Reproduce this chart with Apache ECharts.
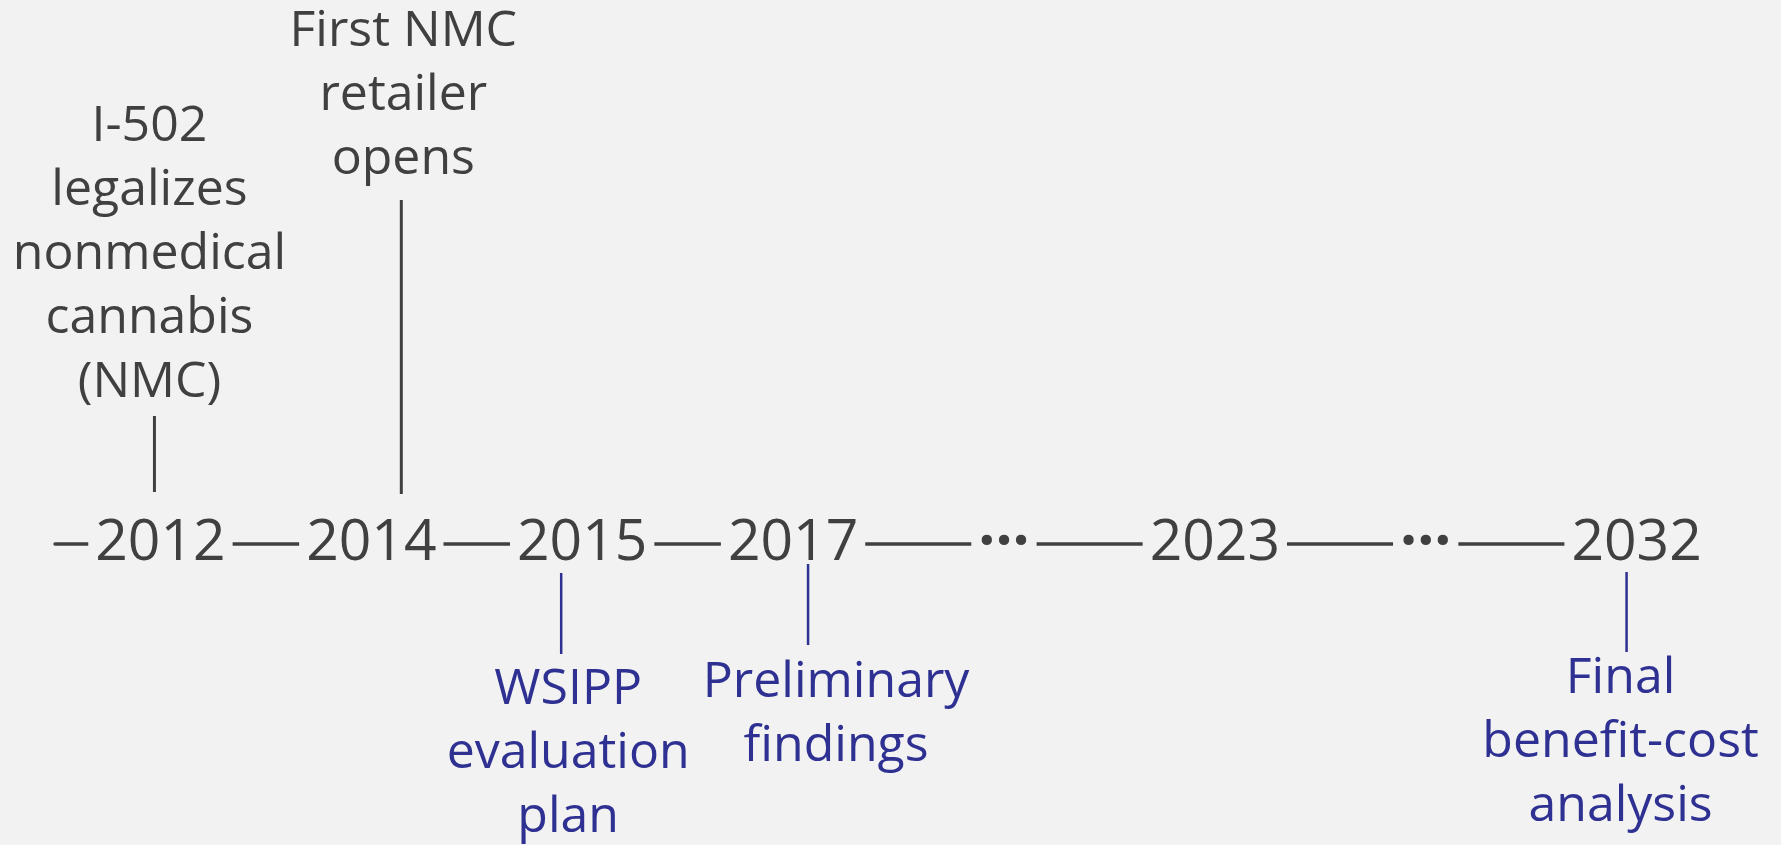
<!DOCTYPE html>
<html lang="en">
<head>
  <meta charset="UTF-8">
  <title>Timeline</title>
  <style>
    html, body { margin: 0; padding: 0; background: #f2f2f2; }
    #main { width: 1781px; height: 845px; }
  </style>
</head>
<body>
  <div id="main"></div>
  <script src="https://cdn.jsdelivr.net/npm/echarts@6/dist/echarts.min.js"></script>
  <script>
    // timeline ticks (the "…" entries are the breaks in the axis)
    var years = ['2012', '2014', '2015', '2017', '…', '2023', '…', '2032'];

    // events hanging off the timeline
    var eventYears = ['2012', '2014', '2015', '2017', '2032'];
    var eventLabels = [
      'I-502\nlegalizes\nnonmedical\ncannabis\n(NMC)',
      'First NMC\nretailer\nopens',
      'WSIPP\nevaluation\nplan',
      'Preliminary\nfindings',
      'Final\nbenefit-cost\nanalysis'
    ];
    var eventSides = ['above', 'above', 'below', 'below', 'below'];

    var GRAY = '#404040';
    var BLUE = '#2e3192';

    // stem extent (px from the line), gap to text, small horizontal nudges
    var stemLayout = {
      '2012': { stem: [52, 128], gap: 1, stemDx: -6, textDx: -11 },
      '2014': { stem: [50, 344], gap: 8, stemDx: 30, textDx: 32 },
      '2015': { stem: [29, 110], gap: 4, stemDx: -21, textDx: -14 },
      '2017': { stem: [20, 101], gap: 6, stemDx: 15, textDx: 43 },
      '2032': { stem: [28, 108], gap: -5, stemDx: -10, textDx: -16 }
    };

    var myChart = echarts.init(document.getElementById('main'));

    var option = {
      backgroundColor: '#f2f2f2',
      animation: false,
      grid: { left: 55, right: 39, top: 0, bottom: 301, containLabel: false, outerBoundsMode: 'none' },
      xAxis: {
        type: 'category',
        data: years,
        boundaryGap: true,
        axisTick: { show: false },
        splitLine: { show: false },
        axisLine: {
          onZero: false,
          lineStyle: {
            width: 3.5,
            color: {
              type: 'linear', x: 0, y: 0, x2: 1, y2: 0,
              colorStops: [
                { offset: 0, color: GRAY },
                { offset: 0.945, color: GRAY },
                { offset: 0.945, color: 'rgba(0,0,0,0)' },
                { offset: 1, color: 'rgba(0,0,0,0)' }
              ]
            }
          }
        },
        axisLabel: {
          interval: 0,
          margin: 0,
          verticalAlign: 'middle',
          color: GRAY,
          fontFamily: 'Open Sans',
          fontSize: 57,
          backgroundColor: '#f2f2f2',
          padding: [0, 7],
          formatter: function (v) {
            return v === '…' ? '{dots|···}' : v;
          },
          rich: {
            dots: { fontFamily: 'Open Sans', fontSize: 60, fontWeight: 'bold', color: GRAY }
          }
        }
      },
      yAxis: {
        type: 'value',
        show: false,
        min: 0,
        max: 544
      },
      series: [{
        type: 'custom',
        coordinateSystem: 'cartesian2d',
        silent: true,
        clip: false,
        data: eventYears.map(function (y, i) { return [years.indexOf(y), i]; }),
        renderItem: function (params, api) {
          var i = params.dataIndex;
          var lay = stemLayout[eventYears[i]];
          var up = eventSides[i] === 'above';
          var s = up ? 1 : -1;
          var color = up ? GRAY : BLUE;
          var a = api.coord([api.value(0), s * lay.stem[0]]);
          var b = api.coord([api.value(0), s * lay.stem[1]]);
          return {
            type: 'group',
            children: [{
              type: 'line',
              shape: { x1: a[0] + lay.stemDx, y1: a[1], x2: b[0] + lay.stemDx, y2: b[1] },
              style: { stroke: color, lineWidth: up ? 3 : 2.5 }
            }, {
              type: 'text',
              x: b[0] + lay.textDx,
              y: b[1] - s * lay.gap,
              style: {
                text: eventLabels[i],
                fill: color,
                fontFamily: 'Open Sans',
                fontSize: 50,
                lineHeight: 64,
                align: 'center',
                verticalAlign: up ? 'bottom' : 'top'
              }
            }]
          };
        }
      }]
    };

    myChart.setOption(option);
  </script>
</body>
</html>
